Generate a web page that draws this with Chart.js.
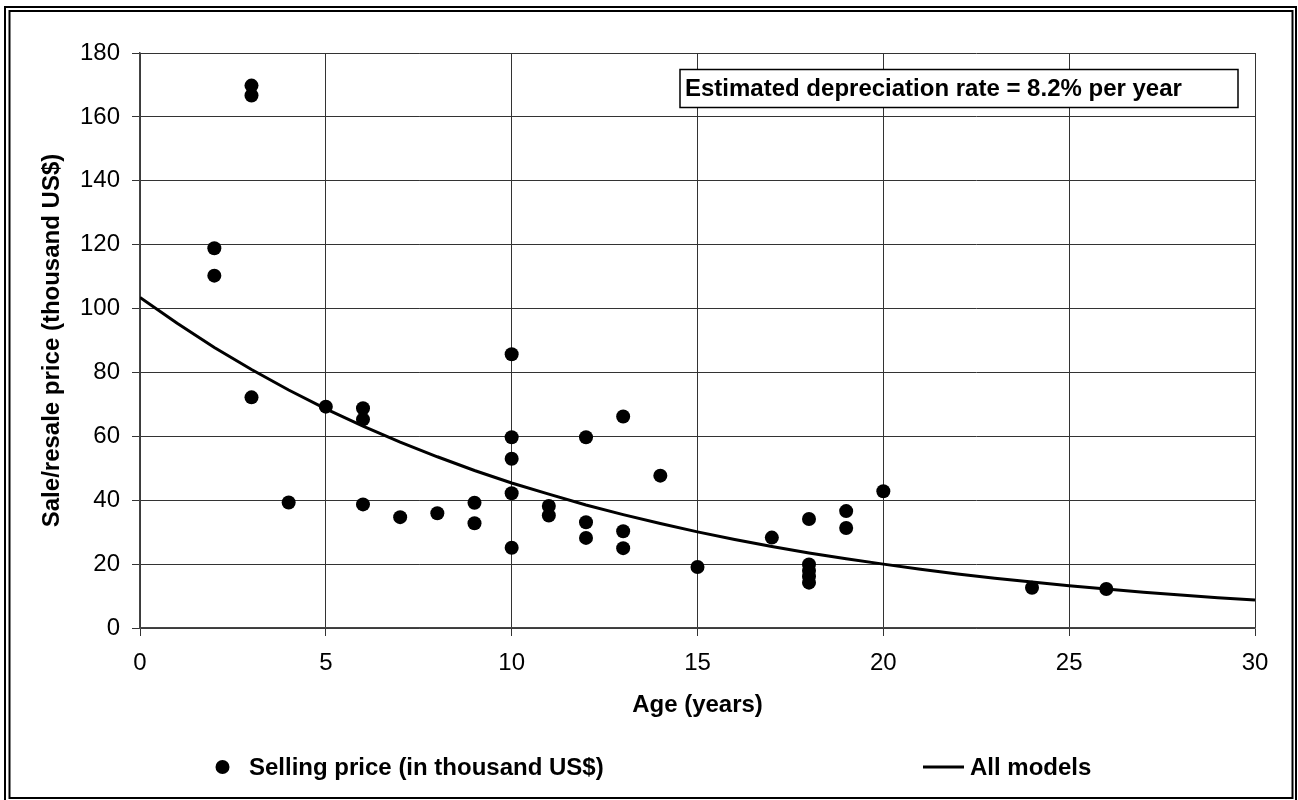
<!DOCTYPE html>
<html>
<head>
<meta charset="utf-8">
<script src="https://cdn.jsdelivr.net/npm/chart.js@4.4.1/dist/chart.umd.min.js"></script>
<style>
  html, body { margin: 0; padding: 0; background: #fff; overflow: hidden; }
  #wrap { position: relative; width: 1298px; height: 800px; }
</style>
</head>
<body>
<div id="wrap"><canvas id="c"></canvas></div>
<script>
// ---- Data ----
const saleAges = [2, 2, 3, 3, 3, 4, 5, 6, 6, 6, 7, 8, 9, 9, 10, 10, 10, 10, 10, 11, 11, 12, 12, 12, 13, 13, 13, 14, 15, 17, 18, 18, 18, 18, 18, 19, 19, 20, 24, 26];
const salePrices = [118.9, 110.3, 169.8, 166.7, 72.2, 39.3, 69.3, 68.8, 65.3, 38.7, 34.7, 35.9, 39.2, 32.8, 85.7, 59.7, 53.0, 42.2, 25.1, 38.2, 35.2, 59.7, 33.1, 28.2, 66.2, 30.3, 25.0, 47.7, 19.1, 28.3, 34.1, 19.9, 17.9, 16.1, 14.2, 36.6, 31.3, 42.8, 12.6, 12.2];

const curveAges = [0, 1, 2, 3, 4, 5, 6, 7, 8, 9, 10, 11, 12, 13, 14, 15, 16, 17, 18, 19, 20, 21, 22, 23, 24, 25, 26, 27, 28, 29, 30];
const curveValues = [103.5, 95.4, 87.8, 80.9, 74.5, 68.6, 63.2, 58.2, 53.6, 49.3, 45.4, 41.9, 38.5, 35.5, 32.7, 30.1, 27.7, 25.5, 23.5, 21.7, 20.0, 18.4, 16.9, 15.6, 14.4, 13.2, 12.2, 11.2, 10.3, 9.5, 8.8];

const seriesNames = ['Selling price (in thousand US$)', 'All models'];
const xTitle = 'Age (years)';
const yTitle = 'Sale/resale price (thousand US$)';
const noteText = 'Estimated depreciation rate = 8.2% per year';

// ---- Build chart ----
const FONT = "'Liberation Sans', Arial, Helvetica, sans-serif";
const pointsData = saleAges.map((a, i) => ({ x: a, y: salePrices[i] }));
const curveData = curveAges.map((a, i) => ({ x: a, y: curveValues[i] }));

const framePlugin = {
  id: 'frame',
  afterDraw(chart) {
    const ctx = chart.ctx;
    ctx.save();
    ctx.strokeStyle = '#000';
    ctx.lineWidth = 2;
    ctx.strokeRect(5, 7, 1291, 805);
    ctx.strokeRect(9.5, 11, 1283, 787);
    ctx.restore();
  }
};

const legendPlugin = {
  id: 'customLegend',
  afterDraw(chart) {
    const ctx = chart.ctx;
    const ds = chart.data.datasets;
    const y = 767;
    ctx.save();
    ctx.font = 'bold 24px ' + FONT;
    ctx.textBaseline = 'middle';
    ctx.textAlign = 'left';
    ctx.fillStyle = '#000';
    // point series
    ctx.beginPath();
    ctx.arc(222.5, y, 7, 0, Math.PI * 2);
    ctx.fill();
    ctx.fillText(ds[0].label, 249, y + 1);
    // line series
    ctx.strokeStyle = '#000';
    ctx.lineWidth = 3;
    ctx.beginPath();
    ctx.moveTo(923, y);
    ctx.lineTo(964, y);
    ctx.stroke();
    ctx.fillText(ds[1].label, 970, y + 1);
    ctx.restore();
  }
};

const notePlugin = {
  id: 'noteBox',
  afterDraw(chart) {
    const ctx = chart.ctx;
    ctx.save();
    ctx.fillStyle = '#fff';
    ctx.fillRect(680, 69.5, 558, 38);
    ctx.strokeStyle = '#000';
    ctx.lineWidth = 1.5;
    ctx.strokeRect(680, 69.5, 558, 38);
    ctx.fillStyle = '#000';
    ctx.font = 'bold 24px ' + FONT;
    ctx.textBaseline = 'middle';
    ctx.textAlign = 'left';
    ctx.fillText(noteText, 685, 89);
    ctx.restore();
  }
};

new Chart(document.getElementById('c'), {
  type: 'scatter',
  data: {
    datasets: [
      {
        label: seriesNames[0],
        data: pointsData,
        showLine: false,
        pointRadius: 7,
        pointHoverRadius: 7,
        pointBackgroundColor: '#000',
        pointBorderWidth: 0,
        borderColor: '#000',
        backgroundColor: '#000'
      },
      {
        label: seriesNames[1],
        data: curveData,
        showLine: true,
        pointRadius: 0,
        borderColor: '#000',
        borderWidth: 3,
        tension: 0,
        fill: false
      }
    ]
  },
  options: {
    responsive: true,
    maintainAspectRatio: false,
    animation: false,
    events: [],
    layout: { padding: { top: 53, right: 43, left: 0, bottom: 0 } },
    plugins: {
      legend: { display: false },
      tooltip: { enabled: false },
      title: { display: false }
    },
    scales: {
      x: {
        type: 'linear',
        min: 0, max: 30,
        afterFit(s) { s.height = 172; },
        ticks: {
          stepSize: 5,
          padding: 13,
          color: '#000',
          font: { family: FONT, size: 24 },
          maxRotation: 0
        },
        grid: { color: '#333', lineWidth: 1, tickLength: 8, tickColor: '#333' },
        border: { color: '#444', width: 1.5 },
        title: {
          display: true,
          text: xTitle,
          color: '#000',
          font: { family: FONT, size: 24, weight: 'bold' },
          padding: { top: 0, bottom: 80 }
        }
      },
      y: {
        type: 'linear',
        min: 0, max: 180,
        afterFit(s) { s.width = 140; },
        ticks: {
          stepSize: 20,
          padding: 12,
          color: '#000',
          font: { family: FONT, size: 24 }
        },
        grid: { color: '#333', lineWidth: 1, tickLength: 8, tickColor: '#333' },
        border: { color: '#444', width: 1.5 },
        title: {
          display: true,
          text: yTitle,
          color: '#000',
          font: { family: FONT, size: 24, weight: 'bold' },
          padding: { top: 38, bottom: 0 }
        }
      }
    }
  },
  plugins: [framePlugin, legendPlugin, notePlugin]
});
</script>
</body>
</html>
